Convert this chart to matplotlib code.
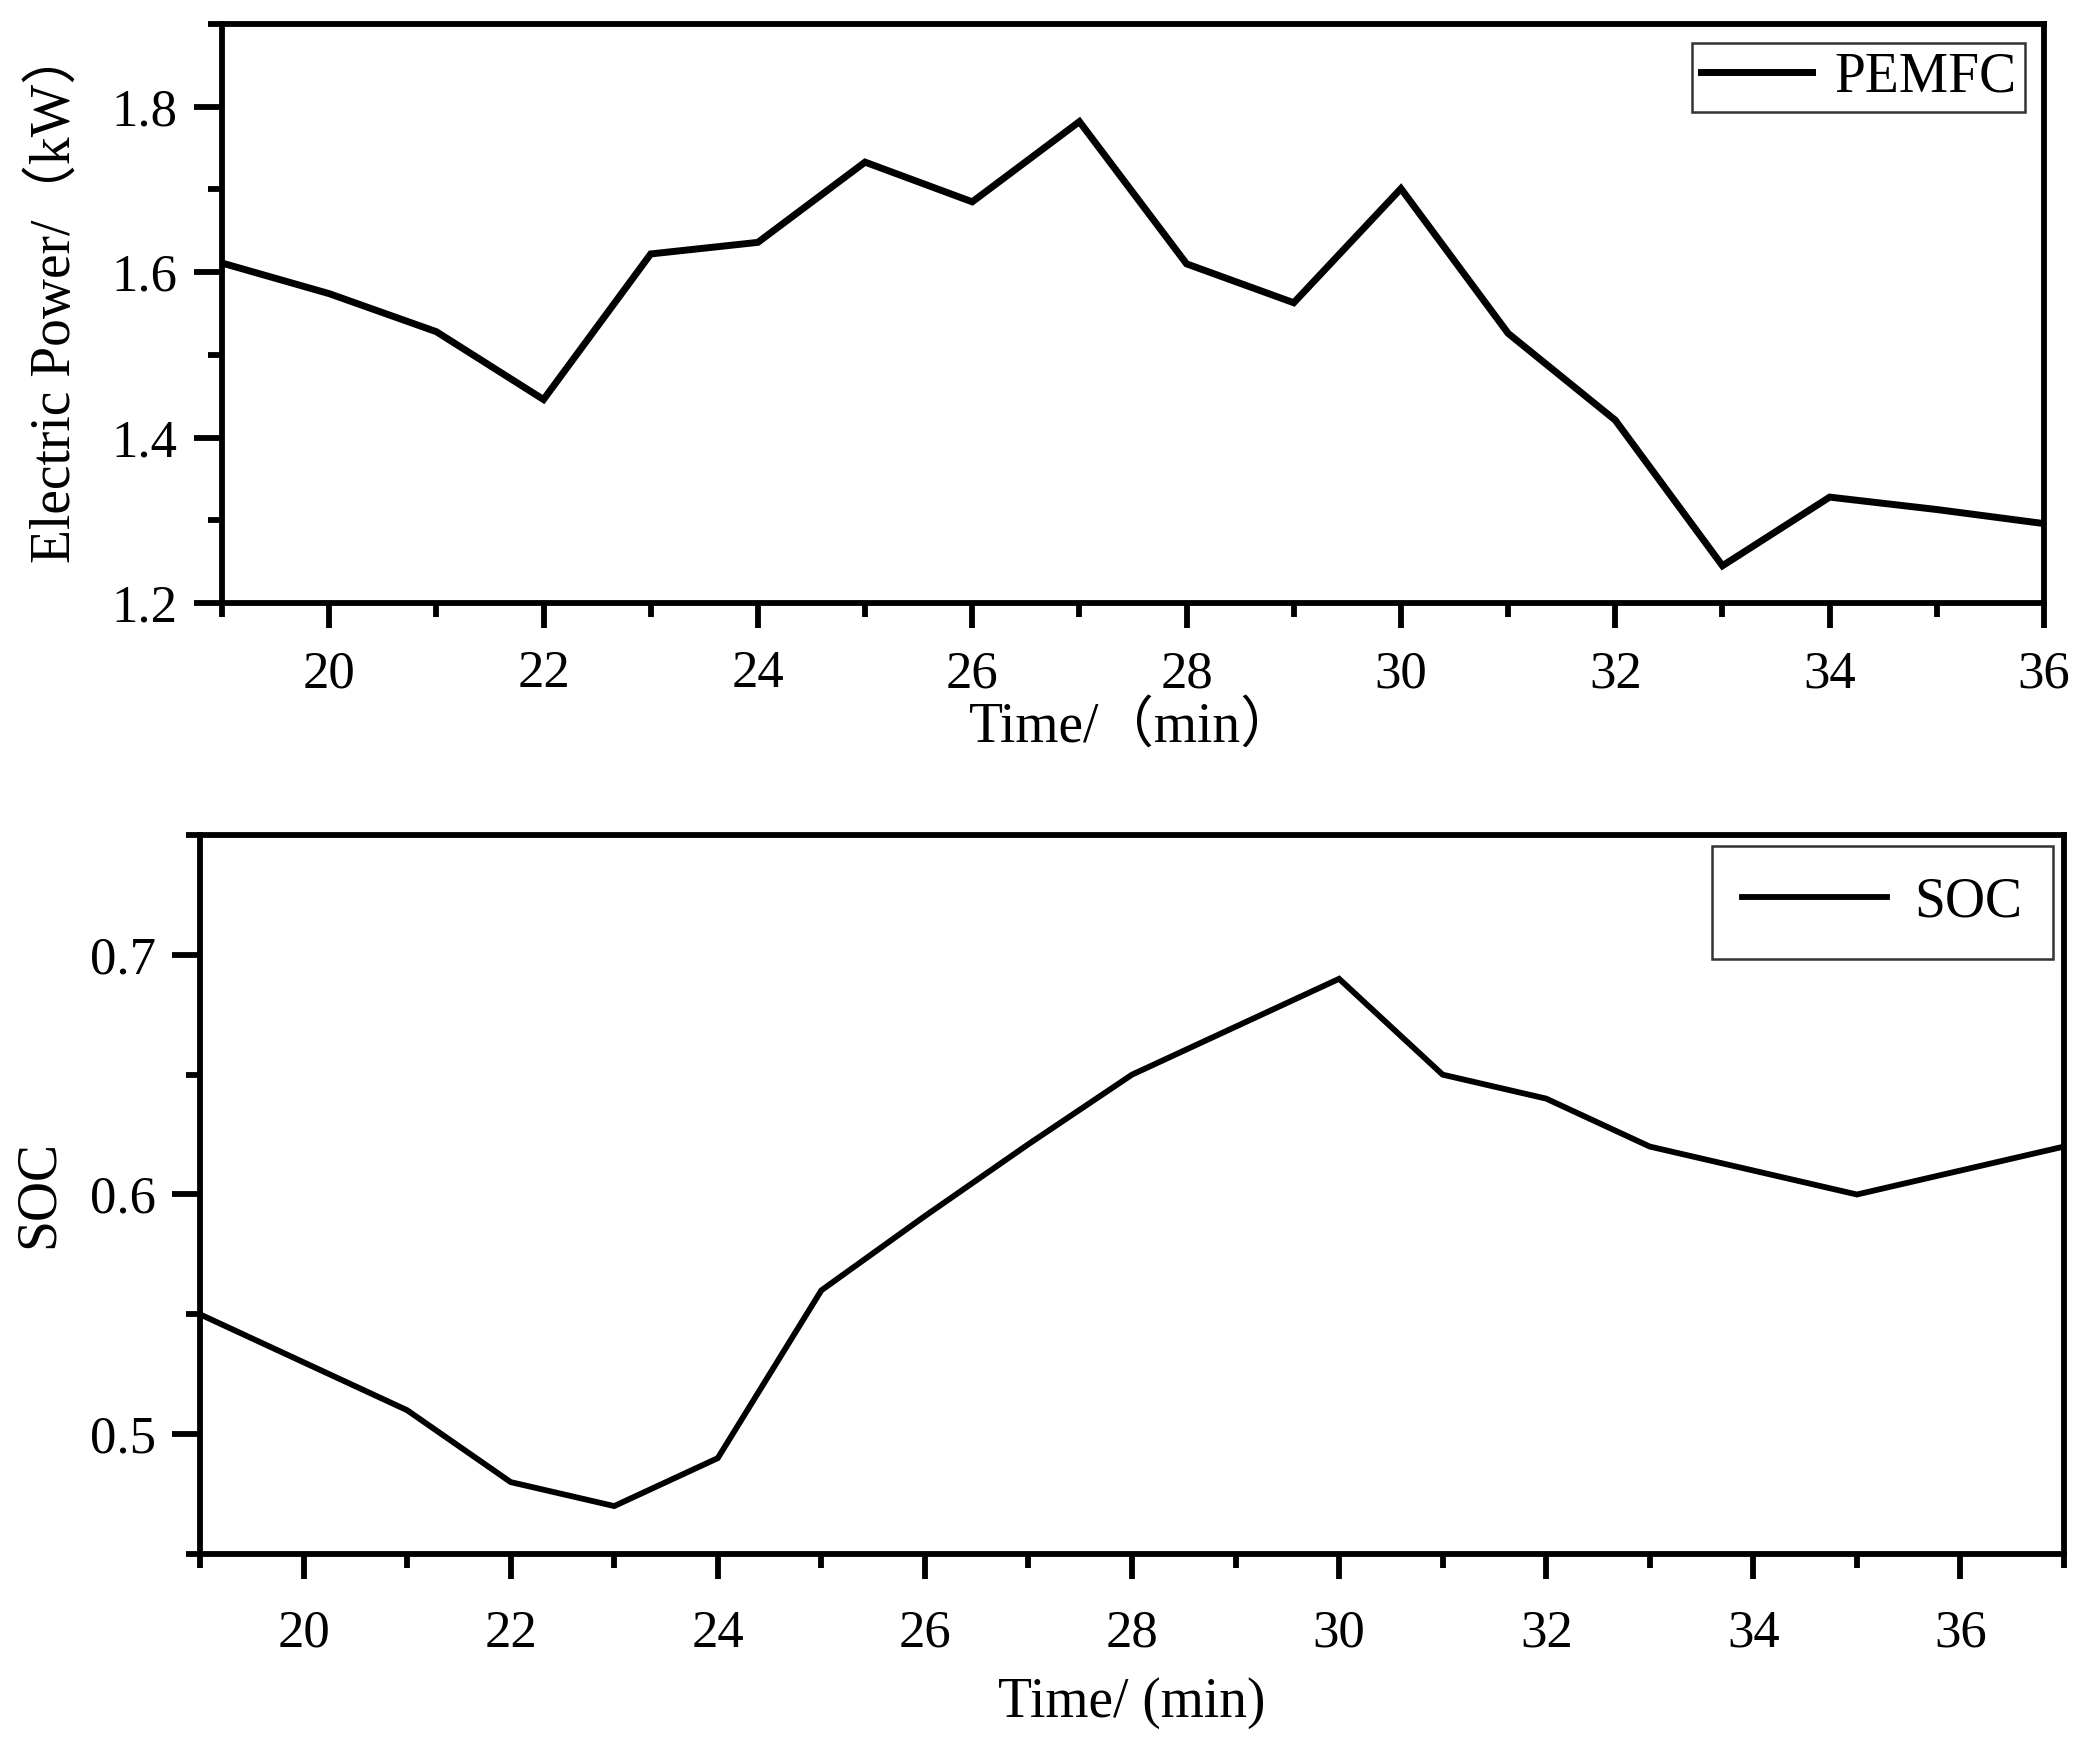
import matplotlib
matplotlib.use("Agg")
import matplotlib.pyplot as plt
from matplotlib.ticker import MultipleLocator

plt.rcParams['font.family'] = ['Liberation Serif', 'Noto Sans CJK SC', 'DejaVu Sans']

# ---- data ----
time_pemfc = [19, 20, 21, 22, 23, 24, 25, 26, 27, 28, 29, 30, 31, 32, 33, 34, 35, 36]
pemfc_power = [1.611, 1.574, 1.528, 1.446, 1.622, 1.636, 1.733, 1.685, 1.782, 1.610,
               1.563, 1.701, 1.526, 1.421, 1.245, 1.328, 1.313, 1.296]

time_soc = [19, 20, 21, 22, 23, 24, 25, 26, 27, 28, 29, 30, 31, 32, 33, 34, 35, 36, 37]
soc_values = [0.55, 0.53, 0.51, 0.48, 0.47, 0.49, 0.56, 0.591, 0.621, 0.65,
              0.67, 0.69, 0.65, 0.64, 0.62, 0.61, 0.60, 0.61, 0.62]

W, H = 2095, 1746
fig = plt.figure(figsize=(W / 100, H / 100), dpi=100)

def px_axes(left, right, top, bottom):
    return fig.add_axes([left / W, 1 - bottom / H, (right - left) / W, (bottom - top) / H])

ax1 = px_axes(222, 2044, 24, 603)
ax2 = px_axes(200, 2064, 835, 1554)

tick_fs = 38
label_fs = 40

def style(ax, xpad, lw_spine=4.2):
    for s in ax.spines.values():
        s.set_linewidth(lw_spine)
        s.set_color('black')
    ax.tick_params(which='both', direction='out', top=False, right=False,
                   width=lw_spine, labelsize=tick_fs, colors='black')
    ax.tick_params(which='major', length=20, pad=12)
    ax.tick_params(which='minor', length=10)
    ax.tick_params(axis='x', which='major', length=18, pad=xpad)

# ---- top panel ----
ax1.plot(time_pemfc, pemfc_power, color='black', lw=5.0, label='PEMFC',
         solid_joinstyle='miter')
ax1.set_xlim(19, 36)
ax1.set_ylim(1.2, 1.9)
ax1.xaxis.set_major_locator(MultipleLocator(2))
ax1.xaxis.set_minor_locator(MultipleLocator(1))
ax1.set_yticks([1.2, 1.4, 1.6, 1.8])
ax1.yaxis.set_minor_locator(MultipleLocator(0.1))
style(ax1, xpad=16)
ax1.set_xlabel('Time/（min）', fontsize=label_fs, labelpad=2)
ax1.set_ylabel('Electric Power/（kW）', fontsize=label_fs, labelpad=0)
ax1.yaxis.set_label_coords(-0.077, 0.53)
leg1 = ax1.legend(loc='upper right', fontsize=40, frameon=True, fancybox=False,
                  edgecolor='black', handlelength=2.0, handletextpad=0.4,
                  borderpad=0.15, borderaxespad=0.35)
leg1.get_frame().set_linewidth(1.8)

# ---- bottom panel ----
ax2.plot(time_soc, soc_values, color='black', lw=4.2, label='SOC',
         solid_joinstyle='miter')
ax2.set_xlim(19, 37)
ax2.set_ylim(0.45, 0.75)
ax2.xaxis.set_major_locator(MultipleLocator(2))
ax2.xaxis.set_minor_locator(MultipleLocator(1))
ax2.set_yticks([0.5, 0.6, 0.7])
ax2.yaxis.set_minor_locator(MultipleLocator(0.05))
style(ax2, xpad=22)
ax2.set_xlabel('Time/ (min)', fontsize=label_fs, labelpad=14)
ax2.set_ylabel('SOC', fontsize=label_fs, labelpad=18)
leg2 = ax2.legend(loc='upper right', fontsize=40, frameon=True, fancybox=False,
                  edgecolor='black', handlelength=2.6, handletextpad=0.5,
                  borderpad=0.55, borderaxespad=0.2)
leg2.get_frame().set_linewidth(1.8)

fig.savefig('out.png', dpi=100, facecolor='white')
